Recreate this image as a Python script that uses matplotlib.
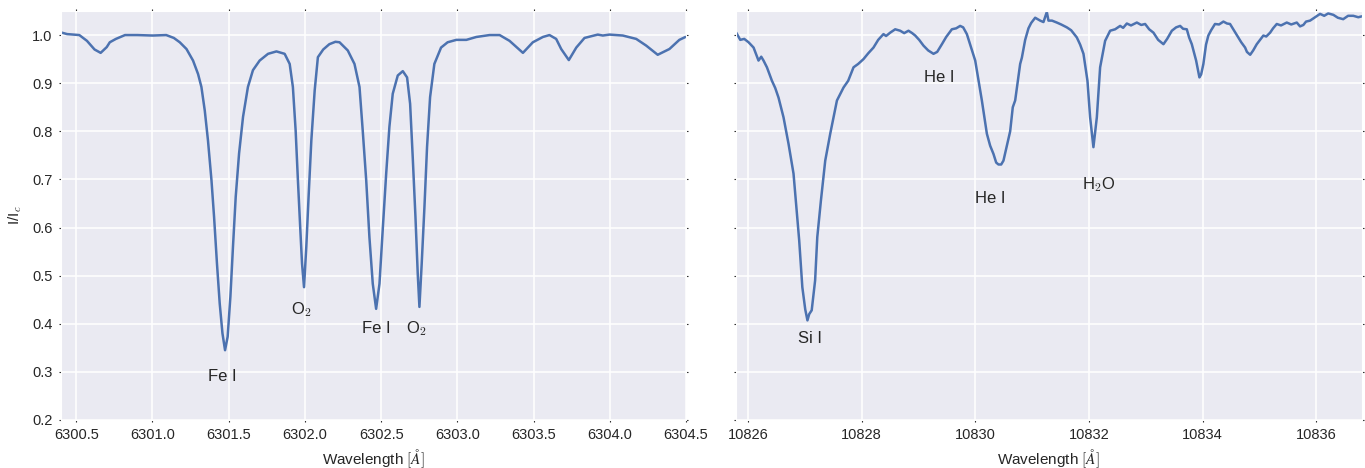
import matplotlib
matplotlib.use("Agg")
import matplotlib.pyplot as plt
import seaborn as sns

# Fe I 6301/6302 region (visible)
wl_vis = [6300.405, 6300.44, 6300.52, 6300.57, 6300.62, 6300.66, 6300.70, 6300.72, 6300.76,
          6300.82, 6300.90, 6301.00, 6301.09, 6301.14, 6301.179, 6301.223, 6301.266, 6301.299,
          6301.321, 6301.343, 6301.364, 6301.387, 6301.404, 6301.423, 6301.441, 6301.459,
          6301.476, 6301.493, 6301.511, 6301.528, 6301.546, 6301.568, 6301.594, 6301.626,
          6301.659, 6301.703, 6301.758, 6301.813, 6301.867, 6301.900, 6301.921, 6301.939,
          6301.954, 6301.970, 6301.981, 6301.994, 6302.009, 6302.024, 6302.042, 6302.064,
          6302.085, 6302.120, 6302.160, 6302.200, 6302.227, 6302.281, 6302.325, 6302.358,
          6302.379, 6302.402, 6302.423, 6302.445, 6302.467, 6302.489, 6302.510, 6302.533,
          6302.554, 6302.576, 6302.609, 6302.642, 6302.670, 6302.690, 6302.707, 6302.725,
          6302.740, 6302.751, 6302.766, 6302.784, 6302.801, 6302.821, 6302.849, 6302.893,
          6302.936, 6302.993, 6303.059, 6303.124, 6303.211, 6303.277, 6303.342, 6303.430,
          6303.495, 6303.561, 6303.604, 6303.648, 6303.681, 6303.731, 6303.780, 6303.834,
          6303.921, 6303.954, 6303.998, 6304.085, 6304.173, 6304.239, 6304.314, 6304.391,
          6304.456, 6304.496]
flux_vis = [1.005, 1.002, 1.000, 0.988, 0.970, 0.963, 0.975, 0.985, 0.992,
            1.000, 1.000, 0.999, 1.000, 0.994, 0.985, 0.971, 0.947, 0.919,
            0.892, 0.843, 0.781, 0.698, 0.622, 0.525, 0.442, 0.380,
            0.345, 0.373, 0.456, 0.560, 0.664, 0.754, 0.830, 0.892,
            0.927, 0.947, 0.961, 0.966, 0.961, 0.940, 0.892, 0.802,
            0.698, 0.594, 0.525, 0.476, 0.560, 0.664, 0.781, 0.885,
            0.954, 0.970, 0.981, 0.986, 0.985, 0.968, 0.940, 0.892,
            0.802, 0.698, 0.580, 0.483, 0.431, 0.483, 0.594, 0.712,
            0.809, 0.878, 0.916, 0.925, 0.912, 0.857, 0.747, 0.622,
            0.504, 0.435, 0.525, 0.643, 0.767, 0.871, 0.940, 0.974,
            0.985, 0.990, 0.990, 0.996, 1.000, 1.000, 0.988, 0.963,
            0.985, 0.996, 1.000, 0.992, 0.971, 0.948, 0.974, 0.994,
            1.001, 0.999, 1.001, 0.999, 0.992, 0.978, 0.959, 0.971,
            0.990, 0.996]

# He I 10830 region (infrared)
wl_ir = [10825.794, 10825.865, 10825.935, 10826.011, 10826.099, 10826.186, 10826.234, 10826.274,
         10826.334, 10826.422, 10826.480, 10826.538, 10826.626, 10826.714, 10826.802, 10826.862,
         10826.902, 10826.957, 10827.008, 10827.047, 10827.078, 10827.122, 10827.182, 10827.220,
         10827.284, 10827.360, 10827.448, 10827.566, 10827.682, 10827.764, 10827.858, 10827.940,
         10828.033, 10828.116, 10828.209, 10828.292, 10828.385, 10828.430, 10828.503, 10828.591,
         10828.679, 10828.749, 10828.825, 10828.890, 10828.943, 10829.013, 10829.089, 10829.172,
         10829.265, 10829.330, 10829.413, 10829.488, 10829.588, 10829.664, 10829.734, 10829.787,
         10829.852, 10829.911, 10829.999, 10830.052, 10830.116, 10830.204, 10830.262, 10830.320,
         10830.368, 10830.408, 10830.456, 10830.496, 10830.556, 10830.614, 10830.660, 10830.702,
         10830.790, 10830.820, 10830.878, 10830.936, 10830.983, 10831.054, 10831.142, 10831.200,
         10831.259, 10831.288, 10831.350, 10831.435, 10831.511, 10831.611, 10831.687, 10831.787,
         10831.846, 10831.904, 10831.974, 10832.021, 10832.079, 10832.139, 10832.197, 10832.285,
         10832.373, 10832.461, 10832.549, 10832.602, 10832.667, 10832.740, 10832.843, 10832.920,
         10832.989, 10833.060, 10833.135, 10833.218, 10833.311, 10833.376, 10833.459, 10833.534,
         10833.605, 10833.657, 10833.722, 10833.763, 10833.810, 10833.850, 10833.886, 10833.944,
         10833.974, 10834.014, 10834.060, 10834.101, 10834.150, 10834.218, 10834.290, 10834.366,
         10834.430, 10834.483, 10834.550, 10834.629, 10834.680, 10834.748, 10834.780, 10834.837,
         10834.890, 10834.953, 10835.010, 10835.069, 10835.120, 10835.188, 10835.240, 10835.305,
         10835.380, 10835.481, 10835.560, 10835.657, 10835.715, 10835.773, 10835.820, 10835.891,
         10835.979, 10836.067, 10836.140, 10836.210, 10836.301, 10836.380, 10836.474, 10836.560,
         10836.652, 10836.740, 10836.804]
flux_ir = [1.005, 0.990, 0.992, 0.985, 0.974, 0.947, 0.955, 0.947,
           0.933, 0.905, 0.890, 0.870, 0.829, 0.774, 0.712, 0.629,
           0.573, 0.476, 0.430, 0.407, 0.420, 0.428, 0.490, 0.580,
           0.656, 0.739, 0.795, 0.864, 0.891, 0.905, 0.933, 0.940,
           0.950, 0.962, 0.974, 0.990, 1.002, 0.998, 1.005, 1.012,
           1.009, 1.004, 1.009, 1.004, 0.999, 0.990, 0.978, 0.968,
           0.961, 0.965, 0.981, 0.996, 1.012, 1.014, 1.019, 1.016,
           1.002, 0.980, 0.947, 0.910, 0.864, 0.795, 0.770, 0.753,
           0.735, 0.731, 0.731, 0.739, 0.770, 0.800, 0.850, 0.864,
           0.940, 0.953, 0.990, 1.014, 1.025, 1.036, 1.030, 1.027,
           1.048, 1.030, 1.030, 1.026, 1.022, 1.016, 1.010, 0.995,
           0.980, 0.961, 0.905, 0.829, 0.767, 0.829, 0.933, 0.988,
           1.009, 1.012, 1.019, 1.015, 1.024, 1.020, 1.026, 1.021,
           1.023, 1.012, 1.005, 0.990, 0.981, 0.992, 1.009, 1.016,
           1.019, 1.013, 1.012, 0.995, 0.981, 0.963, 0.947, 0.912,
           0.918, 0.940, 0.980, 0.999, 1.010, 1.023, 1.022, 1.028,
           1.024, 1.023, 1.010, 0.995, 0.985, 0.974, 0.965, 0.959,
           0.968, 0.981, 0.990, 0.999, 0.997, 1.005, 1.014, 1.023,
           1.020, 1.026, 1.022, 1.026, 1.018, 1.021, 1.028, 1.030,
           1.037, 1.044, 1.040, 1.045, 1.042, 1.036, 1.033, 1.040,
           1.040, 1.037, 1.039]

# line identifications: label, wavelength, y position of the label
labels_vis = ['Fe I', 'O$_2$', 'Fe I', 'O$_2$']
lab_wl_vis = [6301.46, 6301.98, 6302.47, 6302.73]
lab_y_vis = [0.29, 0.43, 0.39, 0.39]
labels_ir = ['Si I', 'He I', 'He I', 'H$_2$O']
lab_wl_ir = [10827.10, 10829.36, 10830.26, 10832.18]
lab_y_ir = [0.37, 0.911, 0.66, 0.69]

xt_vis = [6300.5, 6301.0, 6301.5, 6302.0, 6302.5, 6303.0, 6303.5, 6304.0, 6304.5]
xt_ir = [10826, 10828, 10830, 10832, 10834, 10836]
yt = [0.2, 0.3, 0.4, 0.5, 0.6, 0.7, 0.8, 0.9, 1.0]

sns.set_style('darkgrid')
plt.rcParams['font.family'] = ['Liberation Sans', 'DejaVu Sans']
plt.rcParams['mathtext.fontset'] = 'cm'
plt.rcParams['text.color'] = '.15'
plt.rcParams['axes.labelcolor'] = '.15'
plt.rcParams['xtick.color'] = '.15'
plt.rcParams['ytick.color'] = '.15'

fig = plt.figure(figsize=(13.65, 4.68), dpi=100)
ax1 = fig.add_axes([0.0447, 0.1026, 0.4579, 0.8739])
ax2 = fig.add_axes([0.5392, 0.1026, 0.4584, 0.8739], sharey=ax1)

col = '#4C72B0'
ax1.plot(wl_vis, flux_vis, color=col, lw=1.8)
ax2.plot(wl_ir, flux_ir, color=col, lw=1.8)

for lab, w, y in zip(labels_vis, lab_wl_vis, lab_y_vis):
    ax1.text(w, y, lab, ha='center', va='center', fontsize=12)
for lab, w, y in zip(labels_ir, lab_wl_ir, lab_y_ir):
    ax2.text(w, y, lab, ha='center', va='center', fontsize=12)

ax1.set_xlim(6300.4, 6304.5)
ax2.set_xlim(10825.79, 10836.8)
ax1.set_ylim(0.2, 1.05)
ax1.set_xticks(xt_vis)
ax1.set_xticklabels(['%.1f' % v for v in xt_vis])
ax2.set_xticks(xt_ir)
ax2.set_xticklabels(['%d' % v for v in xt_ir])
ax1.set_yticks(yt)
ax1.set_yticklabels(['%.1f' % v for v in yt])

for ax in (ax1, ax2):
    ax.tick_params(direction='out', length=1.5, width=0.8, labelsize=10.5,
                   top=True, right=True, bottom=True, left=True, pad=4.5)
    ax.set_xlabel(r'Wavelength $[\AA]$', fontsize=11, labelpad=4)
    ax.grid(True, color='white', lw=1.1)
plt.setp(ax2.get_yticklabels(), visible=False)
ax1.set_ylabel(r'I/I$_c$', fontsize=11, labelpad=6)

fig.savefig('out.png', dpi=100)
